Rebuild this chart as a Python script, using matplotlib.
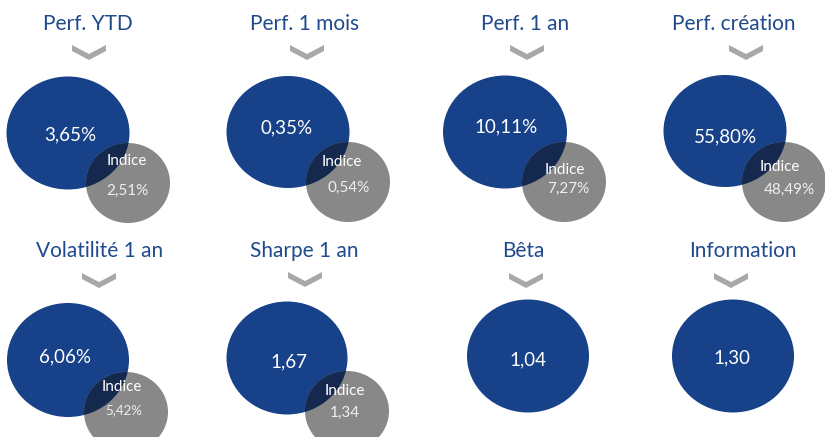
import matplotlib
matplotlib.use("Agg")
import matplotlib.pyplot as plt
from matplotlib.patches import Ellipse, Polygon

# ---- data ----
titles = ["Perf. YTD", "Perf. 1 mois", "Perf. 1 an", "Perf. création",
          "Volatilité 1 an", "Sharpe 1 an", "Bêta", "Information"]
fund_values = [3.65, 0.35, 10.11, 55.80, 6.06, 1.67, 1.04, 1.30]
index_values = [2.51, 0.54, 7.27, 48.49, 5.42, 1.34, None, None]
is_percent = [True, True, True, True, True, False, False, False]
index_label = "Indice"

# ---- layout (pixel coordinates) ----
title_pos = [(88, 24), (305, 24), (525, 24), (734, 24),
             (100, 251), (304, 251), (523, 251), (743, 251)]
chev_pos = [(89, 45), (307, 45), (527, 45), (746, 45),
            (99, 273), (305, 272), (526, 273), (731, 273)]
blue_c = [(68, 133), (288, 132), (505, 132), (725, 131),
          (68, 360), (287, 358), (528, 356), (733, 356)]
blue_wh = [(123, 113), (123, 112), (124, 113), (123, 112),
           (122, 114), (121, 113), (122, 113), (122, 113)]
grey_c = [(128, 183), (348, 182), (564, 182), (784, 182),
          (126, 412), (347, 411), None, None]
grey_wh = (84, 80)
val_pos = [(70, 135), (287, 128), (506, 127), (725, 137),
           (65, 357), (289, 362), (528, 360), (732, 358)]
ind_lab_pos = [(127, 161), (342, 162), (565, 170), (780, 167),
               (122, 387), (345, 391), None, None]
ind_val_pos = [(127, 191), (349, 188), (568, 189), (789, 190),
               (124, 410), (345, 413), None, None]
ind_val_size = [11, 11, 11, 11, 9.5, 11, None, None]

BLUE = "#174289"
GREY = "#888888"
DARK = "#15294f"
TITLE = "#1f4a8c"
CHEV = "#a8a8a8"
FONT = ["Lato", "DejaVu Sans"]


def fmt(v, pct):
    s = f"{v:.2f}".replace(".", ",")
    return s + "%" if pct else s


fig = plt.figure(figsize=(8.25, 4.37), dpi=100)
ax = fig.add_axes([0, 0, 1, 1])
ax.set_xlim(0, 825)
ax.set_ylim(437, 0)
ax.axis("off")

for i in range(len(titles)):
    tx, ty = title_pos[i]
    ax.text(tx, ty, titles[i], color=TITLE, fontsize=15, family=FONT,
            ha="center", va="center")
    cx, cy = chev_pos[i]
    ax.add_patch(Polygon([(cx - 17, cy), (cx, cy + 9), (cx + 17, cy),
                          (cx + 17, cy + 6), (cx, cy + 15), (cx - 17, cy + 6)],
                         closed=True, facecolor=CHEV, edgecolor="none"))
    bw, bh = blue_wh[i]
    blue = Ellipse(blue_c[i], bw, bh, facecolor=BLUE, edgecolor="none", zorder=2)
    ax.add_patch(blue)
    if index_values[i] is not None:
        ax.add_patch(Ellipse(grey_c[i], grey_wh[0], grey_wh[1],
                             facecolor=GREY, edgecolor="none", zorder=3))
        ov = Ellipse(grey_c[i], grey_wh[0], grey_wh[1],
                     facecolor=DARK, edgecolor="none", zorder=4)
        ax.add_patch(ov)
        ov.set_clip_path(blue)
        lx, ly = ind_lab_pos[i]
        ax.text(lx, ly, index_label, color="white", fontsize=11, family=FONT,
                ha="center", va="center", zorder=6)
        vx, vy = ind_val_pos[i]
        ax.text(vx, vy, fmt(index_values[i], is_percent[i]), color="#f0f0f0",
                fontsize=ind_val_size[i], family=FONT,
                ha="center", va="center", zorder=6)
    px, py = val_pos[i]
    ax.text(px, py, fmt(fund_values[i], is_percent[i]), color="white",
            fontsize=13.5, family=FONT, ha="center", va="center", zorder=6)

fig.savefig("out.png", dpi=100)
